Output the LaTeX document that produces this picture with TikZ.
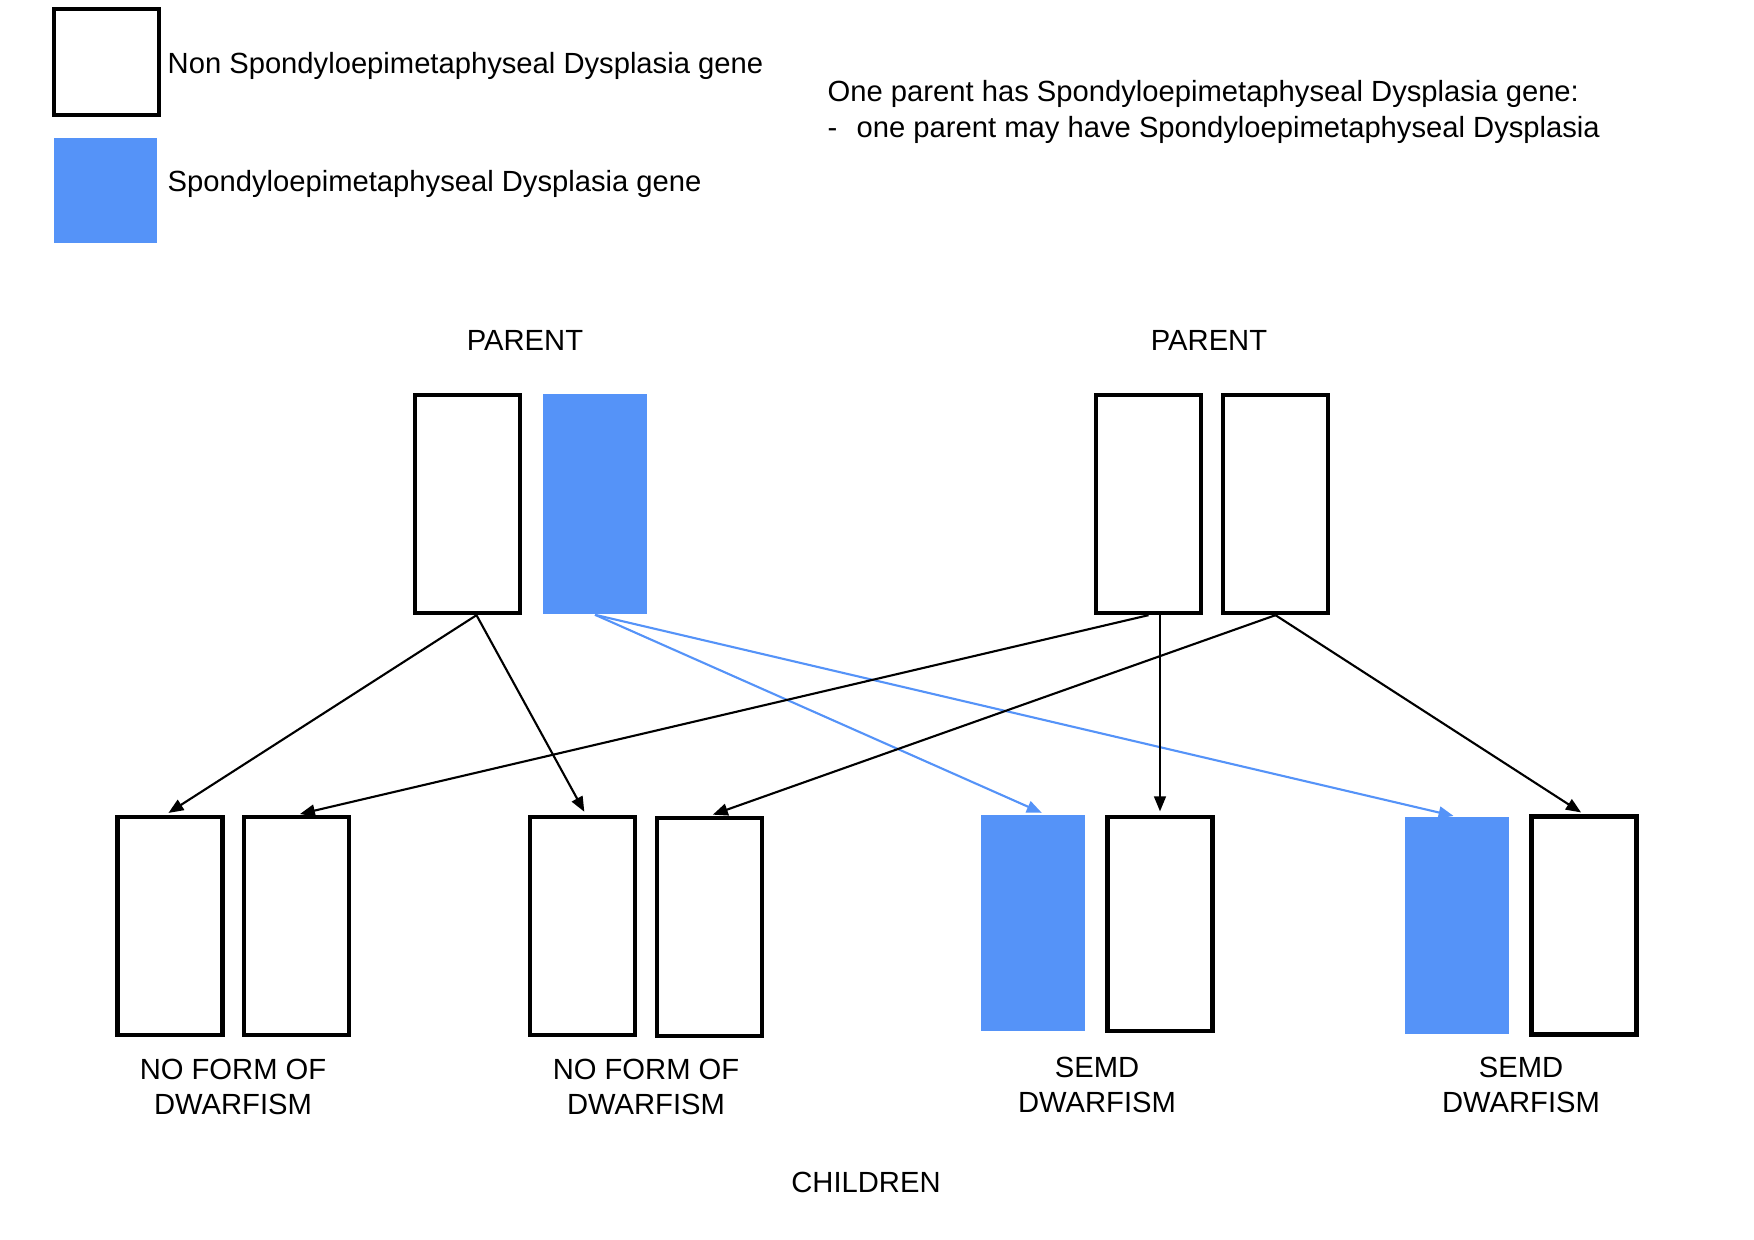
\documentclass[tikz,border=0pt]{standalone}
\usepackage{fontspec}
\setmainfont{Liberation Sans}
\usetikzlibrary{arrows.meta,positioning}
\definecolor{geneblue}{RGB}{85,147,248}

\begin{document}
\begin{tikzpicture}[x=0.01cm, y=-0.01cm,
    font=\fontsize{8.3}{10.2}\selectfont,
    gene/.style={draw, line width=1.2pt, minimum width=1.05cm, minimum height=2.18cm, inner sep=0pt},
    sick/.style={fill=geneblue, minimum width=1.04cm, minimum height=2.16cm, inner sep=0pt},
    pass/.style={-{Triangle[length=1.5mm, width=1.2mm]}, line width=0.6pt, shorten >=1pt},
    passblue/.style={pass, geneblue}]
    \useasboundingbox (0, 0) rectangle (1754, 1239);

    % Legend
    \node[gene, minimum height=1.06cm] (keyplain) at (106.5, 62) {};
    \node[sick, minimum width=1.03cm, minimum height=1.05cm] (keysick) at (105.5, 190.5) {};
    \node[anchor=west, inner sep=0pt] (keyplaintext) at (167, 66) {Non Spondyloepimetaphyseal Dysplasia gene};
    \node[anchor=west, inner sep=0pt] (keysicktext) at (167, 184) {Spondyloepimetaphyseal Dysplasia gene};
    \node[anchor=west, align=left, inner sep=0pt] (note) at (827, 112)
        {One parent has Spondyloepimetaphyseal Dysplasia gene:\\\makebox[0.29cm][l]{-}one parent may have Spondyloepimetaphyseal Dysplasia};

    % Parents
    \node (parenta) at (525, 340) {PARENT};
    \node (parentb) at (1209, 340) {PARENT};
    \node[gene] (pa1) at (467.5, 504) {};
    \node[sick, minimum height=2.2cm] (pa2) at (595, 504) {};
    \node[gene] (pb1) at (1148.5, 504) {};
    \node[gene] (pb2) at (1275.5, 504) {};

    % Children
    \node[gene] (c1a) at (170, 926) {};
    \node[gene] (c1b) at (296.5, 926) {};
    \node[gene] (c2a) at (582.5, 926) {};
    \node[gene] (c2b) at (709.5, 927) {};
    \node[sick] (c3a) at (1033, 923) {};
    \node[gene, minimum height=2.14cm] (c3b) at (1160, 924) {};
    \node[sick] (c4a) at (1457, 925.5) {};
    \node[gene] (c4b) at (1584, 925.5) {};

    \node[align=center] (out1) at (233, 1087) {NO FORM OF\\DWARFISM};
    \node[align=center] (out2) at (646, 1087) {NO FORM OF\\DWARFISM};
    \node[align=center] (out3) at (1097, 1085) {SEMD\\DWARFISM};
    \node[align=center] (out4) at (1521, 1085) {SEMD\\DWARFISM};
    \node (children) at (866, 1182) {CHILDREN};

    % Inheritance
    \draw[pass] ([xshift=0.09cm]pa1.south) -- ([xshift=-0.045cm]c1a.north);
    \draw[pass] ([xshift=0.09cm]pa1.south) -- ([xshift=0.035cm]c2a.north);
    \draw[passblue] (pa2.south) -- ([xshift=0.12cm]c3a.north);
    \draw[passblue] (pa2.south) -- (c4a.north);
    \draw[pass] (pb1.south) -- (c1b.north);
    \draw[pass, line width=0.45pt] (pb1.south -| c3b.north) -- (c3b.north);
    \draw[pass] (pb2.south) -- (c2b.north);
    \draw[pass] (pb2.south) -- (c4b.north);
\end{tikzpicture}
\end{document}
